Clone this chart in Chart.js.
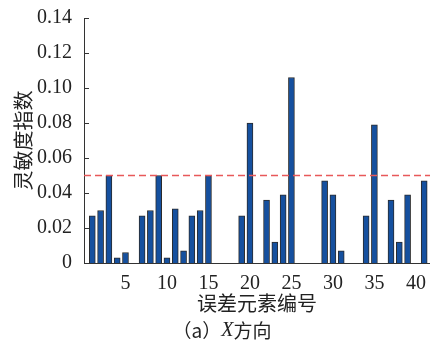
<!DOCTYPE html>
<html>
<head>
<meta charset="utf-8">
<script src="https://cdn.jsdelivr.net/npm/chart.js@4.4.1/dist/chart.umd.min.js"></script>
<style>
  html, body { margin: 0; padding: 0; background: #fff; }
  #wrap { width: 430px; height: 342px; }
</style>
</head>
<body>
<div id="wrap"><canvas id="chart" width="430" height="342"></canvas></div>
<script>
// 误差元素编号 1..41
const elementIds = [1,2,3,4,5,6,7,8,9,10,11,12,13,14,15,16,17,18,19,20,21,22,23,24,25,26,27,28,29,30,31,32,33,34,35,36,37,38,39,40,41];
// 灵敏度指数 (空位为 null)
const sensitivity = [0.027,0.030,0.050,0.003,0.006,null,0.027,0.030,0.050,0.003,0.031,0.007,0.027,0.030,0.050,null,null,null,0.027,0.080,null,0.036,0.012,0.039,0.106,null,null,null,0.047,0.039,0.007,null,null,0.027,0.079,null,0.036,0.012,0.039,null,0.047];
const threshold = 0.05;
const xRange = [0, 41.7];
const xTicks = [5, 10, 15, 20, 25, 30, 35, 40];
const yTicks = [0, 0.02, 0.04, 0.06, 0.08, 0.10, 0.12, 0.14];

const serif = '"Liberation Serif", "Times New Roman", serif';
const cjk = '"Noto Sans CJK SC", sans-serif';

// y 轴内向刻度 + 图注
const extras = {
    id: 'extras',
    afterDraw: (chart) => {
        const ctx = chart.ctx;
        const y = chart.scales.y;
        ctx.save();
        ctx.strokeStyle = '#333';
        ctx.lineWidth = 1;
        y.ticks.forEach(t => {
            const py = Math.round(y.getPixelForValue(t.value)) + 0.5;
            ctx.beginPath();
            ctx.moveTo(y.right, py);
            ctx.lineTo(y.right + 5, py);
            ctx.stroke();
        });
        // (a) X方向
        const cy = 331;
        const parts = [
            { t: '（a）', f: '19px ' + cjk },
            { t: 'X', f: 'italic 20px ' + serif },
            { t: '方向', f: '19px ' + cjk }
        ];
        let w = 0;
        parts.forEach(p => { ctx.font = p.f; p.w = ctx.measureText(p.t).width; w += p.w; });
        let cx = 222 - w / 2;
        ctx.fillStyle = '#222';
        ctx.textBaseline = 'middle';
        ctx.textAlign = 'left';
        parts.forEach(p => { ctx.font = p.f; ctx.fillText(p.t, cx, cy); cx += p.w; });
        ctx.restore();
    }
};

function draw() {
    new Chart(document.getElementById('chart').getContext('2d'), {
        type: 'bar',
        data: {
            datasets: [
                {
                    type: 'line',
                    data: [{ x: xRange[0], y: threshold }, { x: xRange[1], y: threshold }],
                    borderColor: '#e8585a',
                    borderWidth: 1.5,
                    borderDash: [7, 4],
                    pointRadius: 0,
                    order: 0
                },
                {
                    data: elementIds.map((id, i) => ({ x: id, y: sensitivity[i] })),
                    backgroundColor: '#15509f',
                    borderColor: '#2b2b2b',
                    borderWidth: 1,
                    barThickness: 6,
                    order: 1
                }
            ]
        },
        options: {
            responsive: false,
            animation: false,
            layout: { padding: { top: 18, right: 0, left: 0, bottom: 27 } },
            plugins: { legend: { display: false }, tooltip: { enabled: false } },
            scales: {
                x: {
                    type: 'linear',
                    offset: false,
                    min: xRange[0],
                    max: xRange[1],
                    afterBuildTicks: s => { s.ticks = xTicks.map(v => ({ value: v })); },
                    grid: { display: false },
                    border: { display: true, color: '#333', width: 1 },
                    ticks: {
                        autoSkip: false,
                        maxRotation: 0,
                        padding: 1,
                        color: '#222',
                        font: { family: serif, size: 20 },
                        callback: v => String(v)
                    },
                    title: {
                        display: true,
                        text: '误差元素编号',
                        color: '#222',
                        font: { family: cjk, size: 20 },
                        padding: { top: 0, bottom: 0 }
                    },
                    afterFit: s => { s.height = 52; }
                },
                y: {
                    min: 0,
                    max: 0.14,
                    afterBuildTicks: s => { s.ticks = yTicks.map(v => ({ value: v })); },
                    grid: { display: false },
                    border: { display: true, color: '#333', width: 1 },
                    ticks: {
                        padding: 4,
                        color: '#222',
                        font: { family: serif, size: 20 },
                        callback: v => v === 0 ? '0' : v.toFixed(2)
                    },
                    title: {
                        display: true,
                        text: '灵敏度指数',
                        color: '#222',
                        font: { family: cjk, size: 20 },
                        padding: { top: 11, bottom: 0 }
                    },
                    afterFit: s => { s.width = 84; }
                }
            }
        },
        plugins: [extras]
    });
}

Promise.all([
    document.fonts.load('20px "Liberation Serif"'),
    document.fonts.load('italic 20px "Liberation Serif"'),
    document.fonts.load('20px "Noto Sans CJK SC"', '误差元素编号灵敏度指数方向')
]).then(draw, draw);
</script>
</body>
</html>
